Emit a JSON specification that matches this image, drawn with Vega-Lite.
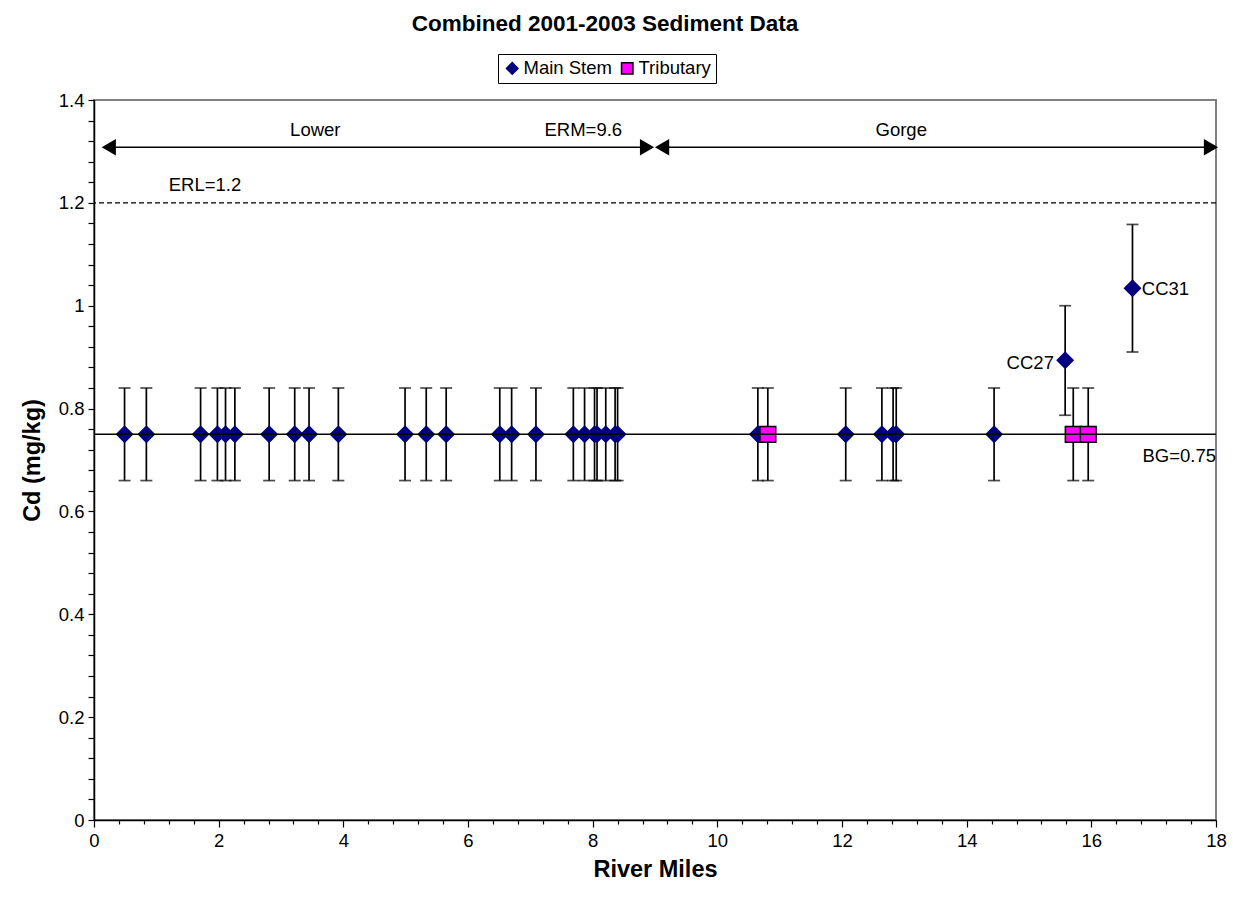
{
  "$schema": "https://vega.github.io/schema/vega-lite/v6.json",
  "width": 1122,
  "height": 720,
  "autosize": {"type": "none"},
  "padding": {"left": 94, "top": 100, "right": 17, "bottom": 85},
  "background": "white",
  "title": {"text": "Combined 2001-2003 Sediment Data", "fontSize": 22.5, "fontWeight": "bold", "font": "Liberation Sans", "anchor": "middle", "dx": -50, "offset": 18, "color": "black"},
  "datasets": {
    "pts": [
      {"mile": 0.49, "cd": 0.75, "lo": 0.66, "hi": 0.84, "type": "Main Stem"},
      {"mile": 0.84, "cd": 0.75, "lo": 0.66, "hi": 0.84, "type": "Main Stem"},
      {"mile": 1.71, "cd": 0.75, "lo": 0.66, "hi": 0.84, "type": "Main Stem"},
      {"mile": 1.98, "cd": 0.75, "lo": 0.66, "hi": 0.84, "type": "Main Stem"},
      {"mile": 2.11, "cd": 0.75, "lo": 0.66, "hi": 0.84, "type": "Main Stem"},
      {"mile": 2.26, "cd": 0.75, "lo": 0.66, "hi": 0.84, "type": "Main Stem"},
      {"mile": 2.81, "cd": 0.75, "lo": 0.66, "hi": 0.84, "type": "Main Stem"},
      {"mile": 3.22, "cd": 0.75, "lo": 0.66, "hi": 0.84, "type": "Main Stem"},
      {"mile": 3.45, "cd": 0.75, "lo": 0.66, "hi": 0.84, "type": "Main Stem"},
      {"mile": 3.92, "cd": 0.75, "lo": 0.66, "hi": 0.84, "type": "Main Stem"},
      {"mile": 4.99, "cd": 0.75, "lo": 0.66, "hi": 0.84, "type": "Main Stem"},
      {"mile": 5.33, "cd": 0.75, "lo": 0.66, "hi": 0.84, "type": "Main Stem"},
      {"mile": 5.65, "cd": 0.75, "lo": 0.66, "hi": 0.84, "type": "Main Stem"},
      {"mile": 6.51, "cd": 0.75, "lo": 0.66, "hi": 0.84, "type": "Main Stem"},
      {"mile": 6.70, "cd": 0.75, "lo": 0.66, "hi": 0.84, "type": "Main Stem"},
      {"mile": 7.09, "cd": 0.75, "lo": 0.66, "hi": 0.84, "type": "Main Stem"},
      {"mile": 7.69, "cd": 0.75, "lo": 0.66, "hi": 0.84, "type": "Main Stem"},
      {"mile": 7.87, "cd": 0.75, "lo": 0.66, "hi": 0.84, "type": "Main Stem"},
      {"mile": 8.03, "cd": 0.75, "lo": 0.66, "hi": 0.84, "type": "Main Stem"},
      {"mile": 8.07, "cd": 0.75, "lo": 0.66, "hi": 0.84, "type": "Main Stem"},
      {"mile": 8.21, "cd": 0.75, "lo": 0.66, "hi": 0.84, "type": "Main Stem"},
      {"mile": 8.36, "cd": 0.75, "lo": 0.66, "hi": 0.84, "type": "Main Stem"},
      {"mile": 8.40, "cd": 0.75, "lo": 0.66, "hi": 0.84, "type": "Main Stem"},
      {"mile": 10.65, "cd": 0.75, "lo": 0.66, "hi": 0.84, "type": "Main Stem"},
      {"mile": 12.06, "cd": 0.75, "lo": 0.66, "hi": 0.84, "type": "Main Stem"},
      {"mile": 12.64, "cd": 0.75, "lo": 0.66, "hi": 0.84, "type": "Main Stem"},
      {"mile": 12.82, "cd": 0.75, "lo": 0.66, "hi": 0.84, "type": "Main Stem"},
      {"mile": 12.87, "cd": 0.75, "lo": 0.66, "hi": 0.84, "type": "Main Stem"},
      {"mile": 14.44, "cd": 0.75, "lo": 0.66, "hi": 0.84, "type": "Main Stem"},
      {"mile": 15.58, "cd": 0.894, "lo": 0.787, "hi": 1.0, "type": "Main Stem"},
      {"mile": 16.66, "cd": 1.034, "lo": 0.91, "hi": 1.158, "type": "Main Stem"},
      {"mile": 10.81, "cd": 0.75, "lo": 0.66, "hi": 0.84, "type": "Tributary"},
      {"mile": 15.71, "cd": 0.75, "lo": 0.66, "hi": 0.84, "type": "Tributary"},
      {"mile": 15.95, "cd": 0.75, "lo": 0.66, "hi": 0.84, "type": "Tributary"}
    ],
    "arrows": [
      {"from": 0.237, "to": 8.872, "y": 1.308},
      {"from": 9.113, "to": 17.92, "y": 1.308}
    ],
    "refs": [
      {"name": "ERL", "value": 1.2},
      {"name": "BG", "value": 0.75}
    ],
    "labelsCenter": [
      {"text": "Lower", "x": 3.55, "y": 1.342},
      {"text": "ERM=9.6", "x": 7.85, "y": 1.342},
      {"text": "Gorge", "x": 12.95, "y": 1.342},
      {"text": "ERL=1.2", "x": 1.78, "y": 1.235},
      {"text": "BG=0.75", "x": 17.41, "y": 0.708}
    ],
    "labelsRight": [
      {"text": "CC27", "x": 15.40, "y": 0.889}
    ],
    "labelsLeft": [
      {"text": "CC31", "x": 16.81, "y": 1.032}
    ]
  },
  "layer": [
    {
      "data": {"name": "pts"},
      "mark": {"type": "rule", "color": "black", "strokeWidth": 1.7},
      "encoding": {
        "x": {"field": "mile", "type": "quantitative", "scale": {"domain": [0, 18], "nice": false, "zero": false},
          "axis": {
            "title": "River Miles", "titleFontSize": 23.5, "titleFontWeight": "bold", "titlePadding": 8,
            "tickCount": 200,
            "values": [0,0.4,0.8,1.2,1.6,2,2.4,2.8,3.2,3.6,4,4.4,4.8,5.2,5.6,6,6.4,6.8,7.2,7.6,8,8.4,8.8,9.2,9.6,10,10.4,10.8,11.2,11.6,12,12.4,12.8,13.2,13.6,14,14.4,14.8,15.2,15.6,16,16.4,16.8,17.2,17.6,18],
            "labelExpr": "abs(datum.value/2 - round(datum.value/2)) < 0.001 ? format(datum.value, '~g') : ''",
            "tickSize": {"condition": {"test": "abs(datum.value/2 - round(datum.value/2)) < 0.001", "value": 7}, "value": 4},
            "labelFontSize": 18.5, "labelPadding": 4, "labelFlush": false, "labelOverlap": false, "labelBound": false
          }},
        "y": {"field": "lo", "type": "quantitative", "scale": {"domain": [0, 1.4], "nice": false},
          "axis": {
            "title": "Cd (mg/kg)", "titleFontSize": 23.5, "titleFontWeight": "bold", "titlePadding": 14,
            "tickCount": 200,
            "values": [0,0.04,0.08,0.12,0.16,0.2,0.24,0.28,0.32,0.36,0.4,0.44,0.48,0.52,0.56,0.6,0.64,0.68,0.72,0.76,0.8,0.84,0.88,0.92,0.96,1,1.04,1.08,1.12,1.16,1.2,1.24,1.28,1.32,1.36,1.4],
            "labelExpr": "abs(datum.value*5 - round(datum.value*5)) < 0.001 ? format(datum.value, '~g') : ''",
            "tickSize": 6, "labelFontSize": 18.5, "labelPadding": 4, "labelFlush": false, "labelOverlap": false, "labelBound": false
          }},
        "y2": {"field": "hi"}
      }
    },
    {
      "data": {"name": "pts"},
      "mark": {"type": "tick", "orient": "horizontal", "color": "black", "size": 12, "thickness": 1.7},
      "encoding": {
        "x": {"field": "mile", "type": "quantitative"},
        "y": {"field": "lo", "type": "quantitative"}
      }
    },
    {
      "data": {"name": "pts"},
      "mark": {"type": "tick", "orient": "horizontal", "color": "black", "size": 12, "thickness": 1.7},
      "encoding": {
        "x": {"field": "mile", "type": "quantitative"},
        "y": {"field": "hi", "type": "quantitative"}
      }
    },
    {
      "data": {"name": "pts"},
      "mark": {"type": "point", "filled": true, "opacity": 1, "strokeWidth": 1.5, "size": 250},
      "encoding": {
        "x": {"field": "mile", "type": "quantitative"},
        "y": {"field": "cd", "type": "quantitative"},
        "fill": {"field": "type", "type": "nominal", "scale": {"domain": ["Main Stem", "Tributary"], "range": ["#000080", "#FF00FF"]},
          "legend": {"title": null, "orient": "none", "legendX": 404, "legendY": -46, "direction": "horizontal", "strokeColor": "black", "fillColor": "white", "padding": 5, "labelFontSize": 18.5, "symbolSize": 130, "symbolStrokeWidth": 1.5, "columnPadding": 6, "labelOffset": 2}},
        "stroke": {"field": "type", "type": "nominal", "scale": {"domain": ["Main Stem", "Tributary"], "range": ["#000080", "#000000"]},
          "legend": {"title": null, "orient": "none", "legendX": 404, "legendY": -46, "direction": "horizontal", "strokeColor": "black", "fillColor": "white", "padding": 5, "labelFontSize": 18.5, "symbolSize": 130, "symbolStrokeWidth": 1.5, "columnPadding": 6, "labelOffset": 2}},
        "shape": {"field": "type", "type": "nominal", "scale": {"domain": ["Main Stem", "Tributary"], "range": ["diamond", "square"]},
          "legend": {"title": null, "orient": "none", "legendX": 404, "legendY": -46, "direction": "horizontal", "strokeColor": "black", "fillColor": "white", "padding": 5, "labelFontSize": 18.5, "symbolSize": 130, "symbolStrokeWidth": 1.5, "columnPadding": 6, "labelOffset": 2}}
      }
    },
    {
      "data": {"name": "refs"},
      "transform": [{"filter": "datum.name == 'ERL'"}],
      "mark": {"type": "rule", "color": "black", "strokeWidth": 1.3, "strokeDash": [5, 3]},
      "encoding": {"y": {"field": "value", "type": "quantitative"}}
    },
    {
      "data": {"name": "refs"},
      "transform": [{"filter": "datum.name == 'BG'"}],
      "mark": {"type": "rule", "color": "black", "strokeWidth": 1.5},
      "encoding": {"y": {"field": "value", "type": "quantitative"}}
    },
    {
      "data": {"name": "arrows"},
      "mark": {"type": "rule", "color": "black", "strokeWidth": 1.5},
      "encoding": {
        "x": {"field": "from", "type": "quantitative"},
        "x2": {"field": "to"},
        "y": {"field": "y", "type": "quantitative"}
      }
    },
    {
      "data": {"name": "arrows"},
      "mark": {"type": "point", "shape": "triangle-left", "filled": true, "color": "black", "size": 270, "opacity": 1},
      "encoding": {
        "x": {"field": "from", "type": "quantitative"},
        "y": {"field": "y", "type": "quantitative"}
      }
    },
    {
      "data": {"name": "arrows"},
      "mark": {"type": "point", "shape": "triangle-right", "filled": true, "color": "black", "size": 270, "opacity": 1},
      "encoding": {
        "x": {"field": "to", "type": "quantitative"},
        "y": {"field": "y", "type": "quantitative"}
      }
    },
    {
      "data": {"name": "labelsCenter"},
      "mark": {"type": "text", "align": "center", "baseline": "middle", "fontSize": 18.5, "color": "black", "font": "Liberation Sans"},
      "encoding": {
        "x": {"field": "x", "type": "quantitative"},
        "y": {"field": "y", "type": "quantitative"},
        "text": {"field": "text"}
      }
    },
    {
      "data": {"name": "labelsRight"},
      "mark": {"type": "text", "align": "right", "baseline": "middle", "fontSize": 18.5, "color": "black", "font": "Liberation Sans"},
      "encoding": {
        "x": {"field": "x", "type": "quantitative"},
        "y": {"field": "y", "type": "quantitative"},
        "text": {"field": "text"}
      }
    },
    {
      "data": {"name": "labelsLeft"},
      "mark": {"type": "text", "align": "left", "baseline": "middle", "fontSize": 18.5, "color": "black", "font": "Liberation Sans"},
      "encoding": {
        "x": {"field": "x", "type": "quantitative"},
        "y": {"field": "y", "type": "quantitative"},
        "text": {"field": "text"}
      }
    }
  ],
  "config": {
    "font": "Liberation Sans",
    "view": {"stroke": "#808080", "strokeWidth": 2},
    "axis": {"grid": false, "domainColor": "#000000", "domainWidth": 1.5, "tickColor": "#000000", "tickWidth": 1.2, "labelColor": "black", "titleColor": "black", "labelOverlap": false, "labelFont": "Liberation Sans", "titleFont": "Liberation Sans"},
    "legend": {"labelFont": "Liberation Sans", "labelColor": "black"}
  }
}
